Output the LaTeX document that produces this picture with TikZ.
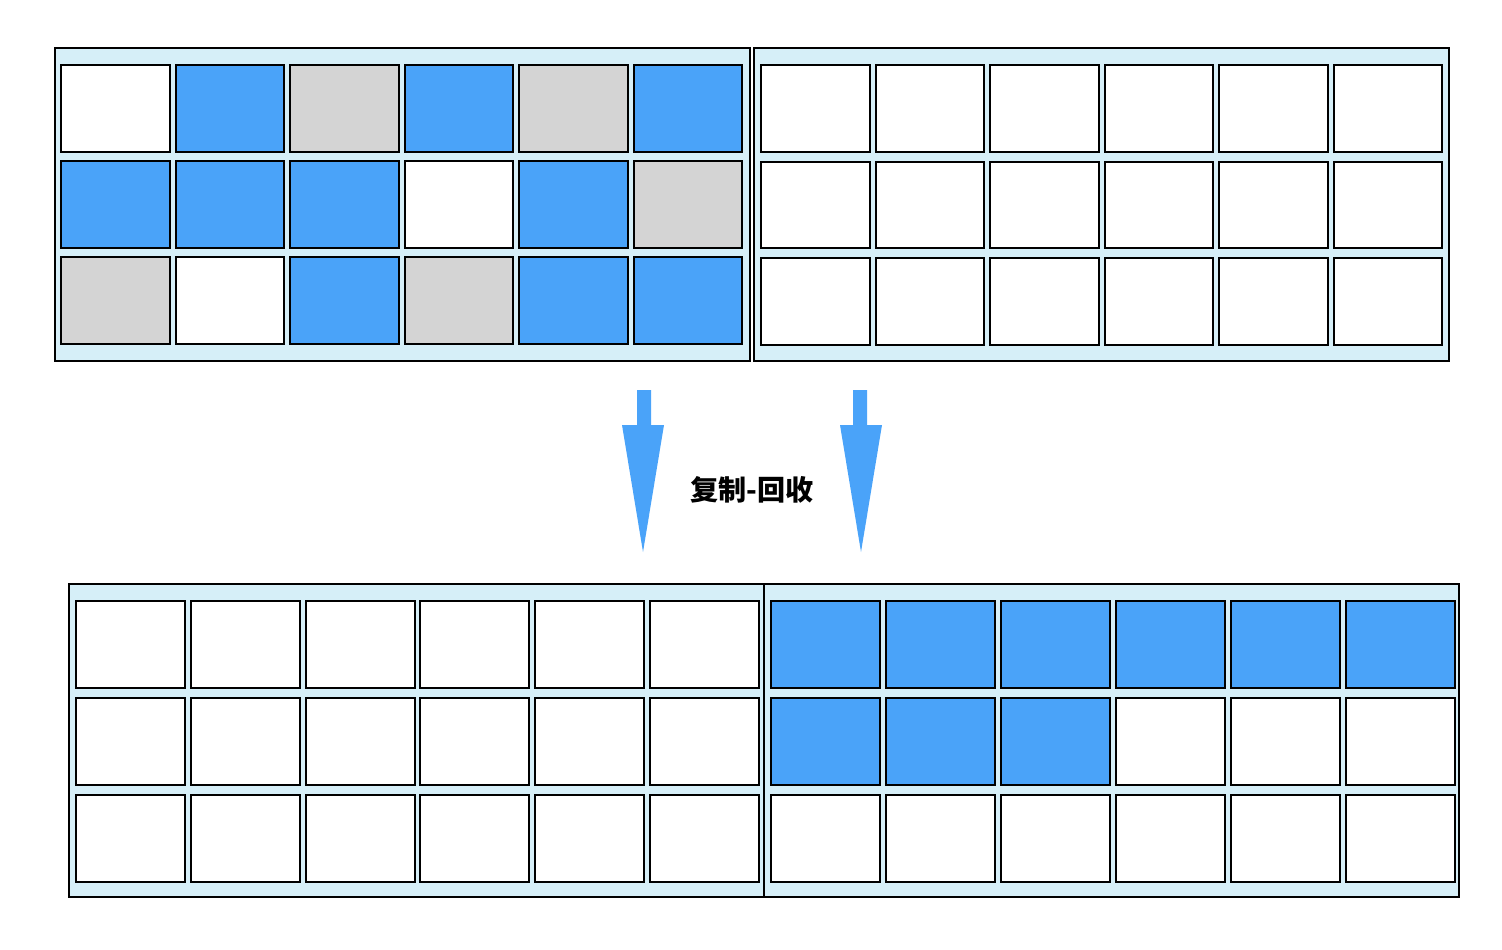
\documentclass[tikz,border=0pt]{standalone}
\usepackage{fontspec}
\newfontfamily\cjkfont{Noto Sans CJK SC}
\usepackage{tikz}
\usetikzlibrary{positioning}
\definecolor{cellblue}{HTML}{4AA3F9}
\definecolor{cellgray}{HTML}{D4D4D4}
\definecolor{panelbg}{HTML}{D6EFF8}
\tikzstyle{panel} = [draw, fill=panelbg, line width=0.04cm, inner sep=0pt, anchor=north west, minimum width=13.9cm, minimum height=6.26cm]
\tikzstyle{cell} = [draw, line width=0.04cm, inner sep=0pt, anchor=north west, minimum width=2.18cm, minimum height=1.74cm]
\tikzstyle{bigarrow} = [fill=cellblue]

\begin{document}
\begin{tikzpicture}[x=0.02cm,y=-0.02cm]
            \useasboundingbox (0,0) rectangle (1502,950);
            % panels
            \node[panel] (tl) at (54,47) {};
            \node[panel] (tr) at (753,47) {};
            \node[panel] (bl) at (68,583) {};
            \node[panel] (br) at (763,583) {};
            % cells, top left
            \foreach \pat [count=\r from 0] in {{white,cellblue,cellgray,cellblue,cellgray,cellblue},{cellblue,cellblue,cellblue,white,cellblue,cellgray},{cellgray,white,cellblue,cellgray,cellblue,cellblue}}
                \foreach \c [count=\i from 0] in \pat
                    \node[cell, fill=\c] (tl-\r-\i) at ({60+114.5*\i},{64+96*\r}) {};
            % cells, top right
            \foreach \r in {0,1,2}
                \foreach \i in {0,...,5}
                    \node[cell, fill=white] (tr-\r-\i) at ({760+114.5*\i},{64+96.5*\r}) {};
            % cells, bottom left
            \foreach \r in {0,1,2}
                \foreach \i in {0,...,5}
                    \node[cell, fill=white] (bl-\r-\i) at ({75+114.8*\i},{600+97*\r}) {};
            % cells, bottom right
            \foreach \pat [count=\r from 0] in {{cellblue,cellblue,cellblue,cellblue,cellblue,cellblue},{cellblue,cellblue,cellblue,white,white,white},{white,white,white,white,white,white}}
                \foreach \c [count=\i from 0] in \pat
                    \node[cell, fill=\c] (br-\r-\i) at ({770+115*\i},{600+97*\r}) {};
            % arrows
            \coordinate (la) at (644,390);
            \coordinate (ra) at (860,390);
            \fill[bigarrow] (la) ++(-7,0) -- ++(14,0) -- ++(0,35) -- ++(13,0) -- (643,552) -- (622,425) -- ++(15,0) -- cycle;
            \fill[bigarrow] (ra) ++(-7,0) -- ++(14,0) -- ++(0,35) -- ++(15,0) -- (861,552) -- (840,425) -- ++(13,0) -- cycle;
            \node[font=\cjkfont\bfseries\fontsize{16}{18}\selectfont] (gc) at (752,490) {复制-回收};
        \end{tikzpicture}
\end{document}
